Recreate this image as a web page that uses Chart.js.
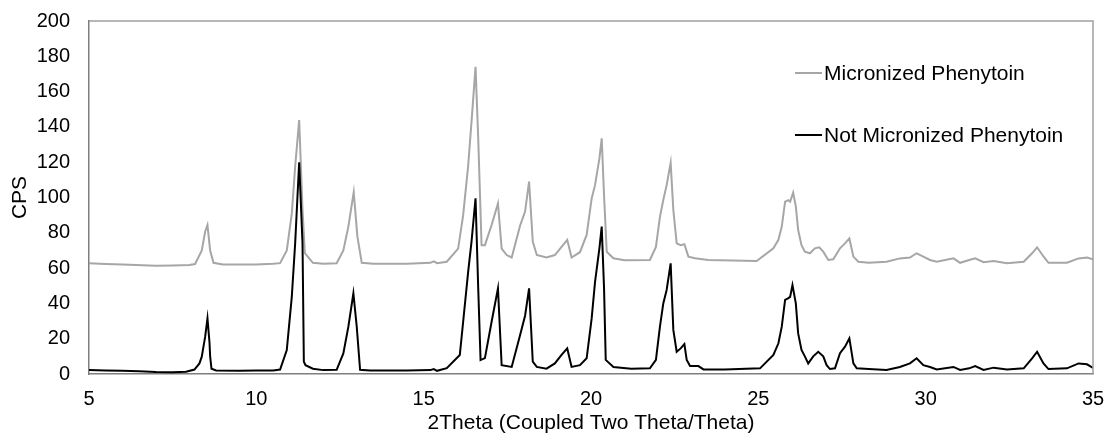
<!DOCTYPE html>
<html>
<head>
<meta charset="utf-8">
<title>Phenytoin XRD</title>
<script src="https://cdn.jsdelivr.net/npm/chart.js@4.4.1/dist/chart.umd.min.js"></script>
<style>
	body { margin: 0; background: #fff; }
	#wrap { width: 1107px; height: 434px; }
</style>
</head>
<body>
<div id="wrap"><canvas id="xrdChart" width="1107" height="434"></canvas></div>
<script>
// [2theta, CPS]
// Not micronized phenytoin (black trace)
const notMicronized = [
	[5.0, 2.3], [5.5, 2.0], [6.0, 1.8], [6.5, 1.5], [7.0, 1.1], [7.5, 1.0], [7.9, 1.3],
	[8.15, 2.5], [8.3, 6], [8.37, 9.8], [8.47, 21], [8.54, 31.5], [8.6, 18], [8.62, 10],
	[8.66, 3], [8.8, 2], [9.5, 1.8], [10.0, 2], [10.5, 2], [10.71, 2.5], [10.91, 13.6],
	[11.06, 43.8], [11.16, 74], [11.28, 120], [11.38, 74], [11.42, 7], [11.47, 5],
	[11.69, 3], [12.0, 2.2], [12.4, 2.4], [12.6, 11.7], [12.75, 26.8], [12.9, 45.7],
	[13.0, 26.8], [13.1, 2.4], [13.4, 2], [14.5, 2], [15.2, 2.2], [15.3, 2.8], [15.4, 1.8],
	[15.69, 3.3], [16.08, 10.8], [16.18, 29.6], [16.33, 58], [16.43, 75], [16.55, 99.5],
	[16.63, 48.6], [16.7, 7.9], [16.83, 9], [17.03, 29.6], [17.22, 48.5], [17.33, 5],
	[17.63, 4], [17.88, 22], [18.03, 33], [18.15, 48.5], [18.26, 7], [18.38, 4],
	[18.67, 3], [18.92, 6], [19.12, 10.8], [19.29, 14.5], [19.42, 4], [19.67, 5],
	[19.87, 8.9], [20.02, 31.5], [20.12, 52], [20.25, 71], [20.32, 83.5], [20.39, 48.5],
	[20.44, 8], [20.67, 4], [21.2, 3], [21.76, 3.2], [21.94, 8], [22.06, 26.8],
	[22.16, 40], [22.26, 47.6], [22.38, 62.7], [22.46, 25], [22.56, 12.6], [22.68, 14.5],
	[22.79, 17], [22.86, 8], [22.96, 4.5], [23.21, 4.5], [23.36, 2.6], [24.0, 2.5],
	[25.05, 3.2], [25.45, 10.8], [25.6, 17.4], [25.7, 26.8], [25.8, 42], [25.9, 43],
	[25.95, 43.7], [26.02, 50.4], [26.12, 40], [26.19, 23], [26.29, 13.6], [26.39, 10],
	[26.49, 6], [26.64, 10], [26.79, 12.6], [26.94, 10], [27.04, 5], [27.14, 2.8],
	[27.29, 3.2], [27.44, 11.8], [27.59, 15.5], [27.72, 20.2], [27.84, 6], [27.94, 3.2],
	[28.3, 2.8], [28.83, 2.3], [29.23, 4], [29.53, 6], [29.73, 8.9], [29.93, 5],
	[30.13, 4], [30.33, 2.6], [30.83, 4], [31.03, 2.3], [31.3, 3.2], [31.48, 4.5],
	[31.73, 2.3], [32.03, 3.6], [32.43, 2.6], [32.93, 3.2], [33.18, 8.9], [33.33, 12.6],
	[33.52, 6], [33.67, 2.8], [34.22, 3.2], [34.57, 6], [34.82, 5.5], [35.0, 3.4]
];

// Micronized phenytoin (grey trace)
const micronized = [
	[5.0, 62.7], [5.5, 62.3], [6.0, 62], [7.0, 61.4], [7.5, 61.5], [8.0, 61.8],
	[8.17, 62.3], [8.37, 70], [8.47, 80.6], [8.54, 84.4], [8.62, 70], [8.72, 63],
	[9.0, 62], [10.0, 62], [10.5, 62.5], [10.71, 62.8], [10.91, 70], [11.06, 91],
	[11.16, 117.5], [11.28, 143.9], [11.38, 93], [11.45, 68.5], [11.69, 63], [12.0, 62.5],
	[12.4, 62.8], [12.6, 70], [12.75, 83.5], [12.91, 103], [13.02, 77.8], [13.15, 63],
	[13.5, 62.5], [14.5, 62.5], [15.2, 63], [15.3, 63.8], [15.4, 62.8], [15.69, 63.6],
	[16.03, 71], [16.18, 90], [16.33, 118], [16.43, 143], [16.55, 174], [16.63, 133.6],
	[16.73, 73], [16.83, 73], [17.03, 84.4], [17.22, 96.6], [17.33, 71], [17.48, 67.4],
	[17.63, 66], [17.88, 84], [18.03, 92], [18.15, 109], [18.26, 75], [18.38, 67.4],
	[18.67, 66], [18.92, 67.4], [19.12, 72], [19.29, 76], [19.42, 66], [19.67, 69],
	[19.87, 78.8], [20.02, 99.5], [20.12, 107], [20.25, 122], [20.32, 133.5],
	[20.39, 101], [20.47, 69.3], [20.67, 65.6], [21.0, 64.5], [21.76, 64.6], [21.94, 72],
	[22.06, 89], [22.16, 98.6], [22.26, 107], [22.38, 119.7], [22.46, 93], [22.56, 74],
	[22.68, 73], [22.79, 73.5], [22.91, 66.5], [23.11, 65.6], [23.5, 64.6], [24.95, 64],
	[25.45, 71.2], [25.6, 76], [25.7, 83.5], [25.8, 97.6], [25.9, 98.5], [25.95, 97.6],
	[26.04, 102.7], [26.12, 95], [26.19, 81.6], [26.29, 73], [26.39, 69.3], [26.54, 68.4],
	[26.69, 71.2], [26.82, 71.8], [26.94, 69.3], [27.09, 64.6], [27.24, 65], [27.44, 71.2],
	[27.59, 74], [27.72, 76.8], [27.84, 66.5], [27.99, 63.6], [28.3, 63], [28.83, 63.6],
	[29.23, 65.5], [29.53, 66], [29.73, 68.4], [29.93, 66.5], [30.13, 64.6], [30.33, 63.6],
	[30.83, 65.5], [31.03, 63], [31.3, 64.6], [31.48, 65.5], [31.73, 63.3], [32.03, 64],
	[32.43, 62.7], [32.93, 63.6], [33.18, 68.4], [33.33, 71.8], [33.52, 66.6], [33.67, 63],
	[34.22, 63], [34.57, 65.5], [34.82, 66], [35.0, 65]
];

const xTicks = [5, 10, 15, 20, 25, 30, 35];
const yTicks = [0, 20, 40, 60, 80, 100, 120, 140, 160, 180, 200];

const FONT = "'Liberation Sans', Arial, sans-serif";

function toPoints(pairs) {
	return pairs.map(function (p) {
		return { x: p[0], y: p[1] };
	});
}

// frame on top/right + legend drawn inside the plot
const framePlugin = {
	id: "frameAndLegend",
	afterDatasetsDraw(chart) {
		const ctx = chart.ctx;
		const a = chart.chartArea;
		ctx.save();
		ctx.strokeStyle = "#a0a0a0";
		ctx.lineWidth = 1.5;
		ctx.beginPath();
		ctx.moveTo(a.left, a.top);
		ctx.lineTo(a.right, a.top);
		ctx.lineTo(a.right, a.bottom);
		ctx.stroke();

		ctx.font = "21px " + FONT;
		ctx.textBaseline = "middle";
		ctx.fillStyle = "#000";
		const lx = a.right - 298;
		const rows = [52, 114];
		// grey entry first, black second
		const order = [1, 0];
		order.forEach(function (dsIndex, row) {
			const ds = chart.data.datasets[dsIndex];
			const y = a.top + rows[row];
			ctx.strokeStyle = ds.borderColor;
			ctx.lineWidth = 2;
			ctx.beginPath();
			ctx.moveTo(lx, y);
			ctx.lineTo(lx + 27, y);
			ctx.stroke();
			ctx.fillText(ds.label, lx + 29, y + 1);
		});
		ctx.restore();
	},
};

const ctx = document.getElementById("xrdChart").getContext("2d");
new Chart(ctx, {
	type: "line",
	data: {
		datasets: [
			{
				label: "Not Micronized Phenytoin",
				data: toPoints(notMicronized),
				borderColor: "#000000",
				borderWidth: 2,
				pointRadius: 0,
				tension: 0,
				fill: false,
			},
			{
				label: "Micronized Phenytoin",
				data: toPoints(micronized),
				borderColor: "#a6a6a6",
				borderWidth: 2,
				pointRadius: 0,
				tension: 0,
				fill: false,
			},
		],
	},
	options: {
		responsive: false,
		animation: false,
		layout: { padding: { top: 21, right: 14, left: 0, bottom: 0 } },
		plugins: {
			legend: { display: false },
			tooltip: { enabled: false },
		},
		scales: {
			x: {
				type: "linear",
				min: 5,
				max: 35,
				afterBuildTicks: function (scale) {
					scale.ticks = xTicks.map(function (v) { return { value: v }; });
				},
				afterFit: function (scale) {
					scale.height = 60;
					scale.paddingLeft = 0;
					scale.paddingRight = 0;
				},
				grid: { display: false, drawTicks: false },
				border: { color: "#7f7f7f", width: 1.5 },
				ticks: { color: "#000", padding: 13, maxRotation: 0, font: { family: FONT, size: 20 } },
				title: {
					display: true,
					text: "2Theta (Coupled Two Theta/Theta)",
					color: "#000",
					padding: 0,
					font: { family: FONT, size: 21, lineHeight: 1 },
				},
			},
			y: {
				min: 0,
				max: 200,
				afterBuildTicks: function (scale) {
					scale.ticks = yTicks.map(function (v) { return { value: v }; });
				},
				afterFit: function (scale) {
					scale.width = 89;
					scale.paddingTop = 0;
					scale.paddingBottom = 0;
				},
				grid: { display: false, drawTicks: false },
				border: { color: "#7f7f7f", width: 1.5 },
				ticks: { color: "#000", padding: 19, font: { family: FONT, size: 20 } },
				title: {
					display: true,
					text: "CPS",
					color: "#000",
					padding: { top: 8, bottom: 0 },
					font: { family: FONT, size: 21 },
				},
			},
		},
	},
	plugins: [framePlugin],
});
</script>
</body>
</html>
